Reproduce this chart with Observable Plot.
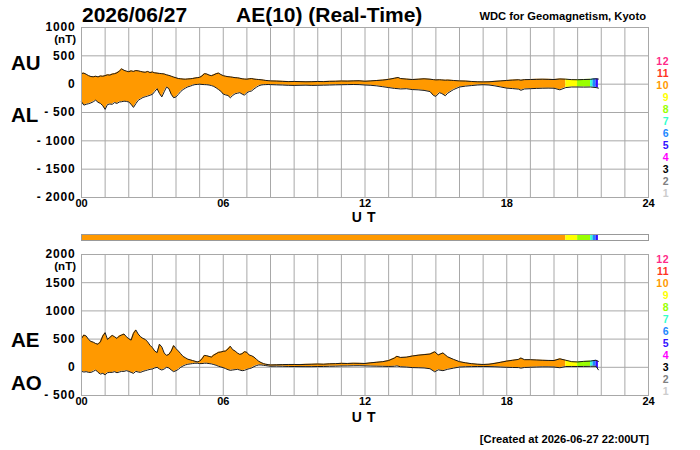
<!DOCTYPE html>
<html><head><meta charset="utf-8">
<script src="https://cdn.jsdelivr.net/npm/d3@7"></script>
<script src="https://cdn.jsdelivr.net/npm/@observablehq/plot@0.6"></script>
<style>
body{margin:0;background:#fff;}
#wrap{position:relative;width:700px;height:450px;overflow:hidden;font-family:"Liberation Sans",Arial,sans-serif;background:#fff;}
#wrap svg{position:absolute;left:0;}
g[aria-label="y-axis tick label"] text{letter-spacing:0.8px;}
</style></head><body><div id="wrap"></div>
<script>
// ---------- data ----------
const hoursU = [0,0.1,0.2,0.3,0.4,0.5,0.6,0.7,0.8,0.9,1,1.1,1.2,1.3,1.4,1.5,1.6,1.7,1.8,1.9,2,2.1,2.2,2.3,2.4,2.5,2.6,2.7,2.8,2.9,3,3.1,3.2,3.3,3.4,3.5,3.6,3.7,3.8,3.9,4,4.1,4.2,4.3,4.4,4.5,4.6,4.7,4.8,4.9,5,5.1,5.2,5.3,5.4,5.5,5.6,5.7,5.8,5.9,6,6.1,6.2,6.3,6.4,6.5,6.6,6.7,6.8,6.9,7,7.1,7.2,7.3,7.4,7.5,7.6,7.7,7.8,7.9,8,
  8.25,8.5,8.75,9,9.25,9.5,9.75,10,10.25,10.5,10.75,11,11.25,11.5,11.75,12,12.25,12.5,12.75,13,13.25,13.4,13.5,13.75,14,14.25,14.5,14.75,14.9,15,15.15,15.25,15.4,15.5,15.65,15.75,16,16.25,16.5,16.75,17,17.25,17.5,17.75,18,18.25,18.5,18.6,18.75,19,19.25,19.5,19.75,20,20.25,20.5,20.75,21,21.25,21.55,21.65,21.78,21.88];
const au = [188,195,175,150,135,130,140,128,145,140, 150,165,160,178,185,200,230,270,245,230, 220,235,225,240,235,225,215,210,225,205, 215,200,195,190,185,180,165,155,140,125, 112,100,95,90,88,92,95,100,108,115, 120,145,185,180,160,150,165,185,195,170, 150,140,132,128,122,115,112,105,95,90, 88,95,100,90,85,82,78,72,66,62, 58,
  55,50,45,48,45,42,44,48,45,50,52,56,54,58,60,52,58,65,72,85,105,118,100,90,82,88,95,88,80,75,78,75,70,72,68,65,58,55,48,42,40,42,50,58,66,72,78,70,80,82,85,88,85,82,92,88,80,78,82,85,92,95,90];
const al = [-312,-370,-355,-345,-330,-310,-282,-320,-340,-380, -445,-360,-350,-355,-325,-340,-315,-310,-300,-305, -315,-355,-410,-345,-285,-260,-235,-222,-210,-195, -180,-130,-80,-165,-225,-135,-50,-80,-180,-240, -225,-180,-130,-95,-70,-48,-35,-20,-8,-5, 0,-5,-8,-10,-15,-25,-40,-65,-95,-125, -175,-190,-200,-240,-200,-170,-160,-150,-175,-195, -150,-130,-120,-85,-55,-30,-15,-10,-8,-6, -8,
  -12,-15,-20,-22,-20,-18,-22,-20,-18,-15,-12,-10,-8,-6,-8,-15,-20,-30,-45,-60,-75,-80,-85,-80,-95,-100,-110,-130,-200,-215,-150,-165,-205,-160,-120,-95,-50,-35,-25,-15,-10,-15,-30,-50,-70,-78,-88,-108,-85,-80,-75,-72,-70,-72,-100,-60,-50,-50,-52,-50,-55,-60,-70];

const hoursE = [0,0.1,0.2,0.3,0.4,0.5,0.6,0.7,0.8,0.9,1,1.1,1.2,1.3,1.4,1.5,1.6,1.7,1.8,1.9,2,2.1,2.2,2.3,2.4,2.5,2.6,2.7,2.8,2.9,3,3.1,3.2,3.3,3.4,3.5,3.6,3.7,3.8,3.9,4,4.1,4.2,4.3,4.4,4.5,4.6,4.7,4.8,4.9,5,5.1,5.2,5.3,5.4,5.5,5.6,5.7,5.8,5.9,6,6.1,6.2,6.3,6.4,6.5,6.6,6.7,6.8,6.9,7,7.1,7.2,7.3,7.4,7.5,7.6,7.7,7.8,7.9,8,
  8.25,8.5,8.75,9,9.25,9.5,9.75,10,10.25,10.5,10.75,11,11.25,11.5,11.75,12,12.25,12.5,12.75,13,13.25,13.35,13.5,13.75,14,14.25,14.5,14.75,14.95,15.1,15.3,15.5,15.75,16,16.25,16.5,16.75,17,17.25,17.5,17.75,18,18.25,18.5,18.6,18.75,19,19.25,19.5,19.75,20,20.25,20.5,20.75,21,21.25,21.55,21.65,21.78,21.88];
const ae = [512,572,554,494,458,445,421,409,451,554, 614,494,530,566,542,512,554,572,590,542, 506,482,602,662,590,542,512,494,451,391, 349,289,260,409,361,253,211,229,289,385, 331,289,241,193,169,144,132,120,108,96, 108,150,211,205,193,181,217,241,265,271, 283,289,325,373,313,289,253,229,241,277, 265,217,205,181,144,108,84,66,54,48, 42,
  45,48,50,50,48,52,55,58,55,62,65,70,68,72,70,68,80,90,100,120,165,195,175,180,200,215,225,235,275,220,255,185,140,100,80,65,55,50,55,70,90,110,125,140,165,135,135,130,125,122,120,150,125,100,95,105,110,118,125,105];
const ao = [-72,-84,-78,-90,-90,-72,-48,-90,-120,-108, -132,-96,-90,-90,-78,-96,-84,-72,-72,-60, -72,-90,-108,-72,-84,-90,-72,-60,-48,-36, -30,-12,0,-30,-48,-30,0,-12,-48,-78, -60,-36,0,24,42,54,60,66,72,72, 66,66,72,72,66,60,48,36,18,6, -6,-24,-42,-54,-48,-42,-36,-48,-60,-54, -36,-24,-12,12,30,42,42,36,30,24, 18,
  20,18,15,14,13,12,12,14,15,18,20,24,24,27,28,25,22,20,18,15,18,25,10,5,-5,-8,-12,-25,-80,-45,-60,-35,-15,5,10,12,14,15,13,10,5,0,-3,-5,-15,-3,1,5,8,8,5,-8,14,15,14,15,17,18,17,-45];

// number of contributing stations over time
const segStart = [0, 20.5, 21.0, 21.55, 21.65, 21.78];
const segEnd   = [20.5, 21.0, 21.55, 21.65, 21.78, 21.88];
const segStations = [10, 9, 8, 7, 6, 5];

const legendLabels = [12,11,10,9,8,7,6,5,4,3,2,1];
const stationColors = ["#cccccc","#808080","#000000","#ff00ff","#3311ff","#1e88ff","#33ffcc","#99ff00","#ffff00","#ff9900","#ff3322","#ff2a88"]; // index = stations-1

const hourTicks = d3.range(0, 25);
const xLabelTicks = [0, 6, 12, 18, 24];
const yTicks1 = [-2000, -1500, -1000, -500, 0, 500, 1000];
const yTicks2 = [-500, 0, 500, 1000, 1500, 2000];

// ---------- drawing ----------
const gridColor = "#a8a8a8";
const font = "'Liberation Sans', Arial, sans-serif";
const wrap = document.getElementById("wrap");

function panel(hours, hi, lo, yDomain, yTicks, mt, mb) {
  const rows = hours.map((t, i) => ({t, hi: hi[i], lo: lo[i]}));
  const areas = segStations.map((n, k) =>
    Plot.areaY(rows.filter(r => r.t >= segStart[k] - 1e-6 && r.t <= segEnd[k] + 1e-6),
      {x: "t", y1: "lo", y2: "hi", fill: stationColors[n - 1], curve: "linear"}));
  return Plot.plot({
    width: 700, height: 225,
    marginLeft: 81, marginRight: 52, marginTop: mt, marginBottom: mb,
    x: {domain: [0, 24]},
    y: {domain: yDomain},
    style: {fontFamily: font, background: "transparent", overflow: "visible"},
    marks: [
      Plot.gridX(hourTicks, {stroke: gridColor, strokeOpacity: 1}),
      Plot.gridY(yTicks, {stroke: gridColor, strokeOpacity: 1}),
      ...areas,
      Plot.lineY(rows, {x: "t", y: "hi", stroke: "#1a1a1a", strokeWidth: 1}),
      Plot.lineY(rows, {x: "t", y: "lo", stroke: "#1a1a1a", strokeWidth: 1}),
      Plot.frame({stroke: gridColor}),
      Plot.axisX({ticks: xLabelTicks, tickSize: 0, tickPadding: 2, label: null,
        tickFormat: d => String(d).padStart(2, "0"), fontSize: 11, fontWeight: "bold", fill: "#000"}),
      Plot.axisY({ticks: yTicks, tickSize: 0, tickPadding: 6, label: null,
        tickFormat: d => d < 0 ? "- " + Math.abs(d) : String(d), fontSize: 12, fontWeight: "bold", fill: "#000"})
    ]
  });
}

const p1 = panel(hoursU, au, al, [-2000, 1000], yTicks1, 27, 28);
p1.style.top = "0px";
wrap.appendChild(p1);

const p2 = panel(hoursE, ae, ao, [-500, 2000], yTicks2, 29, 55);
p2.style.top = "225px";
wrap.appendChild(p2);

// station colour bar
const segRows = segStations.map((n, k) => ({x1: segStart[k], x2: segEnd[k], c: stationColors[n - 1]}));
const bar = Plot.plot({
  width: 700, height: 12, marginLeft: 81, marginRight: 52, marginTop: 3, marginBottom: 3,
  x: {domain: [0, 24], axis: null},
  y: {domain: [0, 1], axis: null},
  color: {type: "identity"},
  style: {background: "transparent"},
  marks: [
    Plot.rect(segRows, {x1: "x1", x2: "x2", y1: 0, y2: 1, fill: "c"}),
    Plot.frame({stroke: "#999"})
  ]
});
bar.style.top = "231px";
wrap.appendChild(bar);

// text overlay
const ov = d3.select(wrap).append("svg")
  .attr("width", 700).attr("height", 450)
  .style("top", "0px").style("pointer-events", "none")
  .style("font-family", font);

function txt(x, y, s, size, weight, anchor, color, spacing) {
  const t = ov.append("text").attr("x", x).attr("y", y).attr("font-size", size)
    .attr("font-weight", weight).attr("text-anchor", anchor || "start")
    .attr("fill", color || "#000").text(s);
  if (spacing) t.attr("letter-spacing", spacing);
}
txt(82, 22, "2026/06/27", 21, "bold");
txt(236, 22, "AE(10) (Real-Time)", 21, "bold");
txt(646, 20, "WDC for Geomagnetism, Kyoto", 11.2, "bold", "end");
txt(11, 70, "AU", 20.5, "bold");
txt(11, 122, "AL", 20.5, "bold");
txt(11, 347, "AE", 20.5, "bold");
txt(11, 390, "AO", 20.5, "bold");
txt(76, 43, "(nT)", 11.5, "bold", "end");
txt(76, 270, "(nT)", 11.5, "bold", "end");
txt(364, 222, "U T", 14, "bold", "middle", "#000", "0.6px");
txt(364, 422, "U T", 14, "bold", "middle", "#000", "0.6px");
txt(649, 443, "[Created at 2026-06-27 22:00UT]", 11.2, "bold", "end");
legendLabels.forEach((n, i) => {
  txt(669, 65 + i * 12, String(n), 10.5, "bold", "end", stationColors[n - 1], "0.5px");
  txt(669, 262.5 + i * 12.05, String(n), 10.5, "bold", "end", stationColors[n - 1], "0.5px");
});
</script></body></html>
